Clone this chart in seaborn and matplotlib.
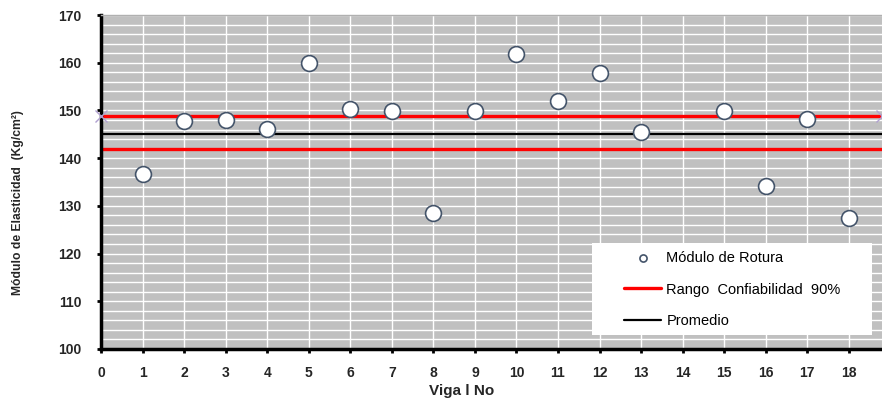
import matplotlib
matplotlib.use("Agg")
import matplotlib.pyplot as plt
from matplotlib.patches import Rectangle
import seaborn as sns
import pandas as pd
import numpy as np

# ---- data ----
viga = [1, 2, 3, 4, 5, 6, 7, 8, 9, 10, 11, 12, 13, 15, 16, 17, 18]
modulo_rotura = [136.7, 147.8, 148.0, 146.1, 160.0, 150.2, 149.9, 128.6, 149.9,
                 161.8, 152.0, 157.8, 145.4, 149.9, 134.2, 148.1, 127.4]
rango_sup = 148.8
rango_inf = 142.0
promedio = 145.1
x_ticks = list(range(0, 19))
y_ticks = [100, 110, 120, 130, 140, 150, 160, 170]

df = pd.DataFrame({"Viga": viga, "Modulo": modulo_rotura})

sns.set_theme(style="white")
plt.rcParams["font.family"] = ["Liberation Sans", "DejaVu Sans"]

fig = plt.figure(figsize=(8.82, 4.0), dpi=100)
ax = fig.add_axes([101/882, 1-349/400, 1-101/882, (349-15)/400])
ax.set_facecolor("#C0C0C0")

# grid
for x in x_ticks:
    ax.axvline(x, color="white", lw=1.0, zorder=0)
for y in np.arange(100, 171, 2):
    ax.axhline(y, color="white", lw=1.0, zorder=0)

# lines
ax.axhline(rango_sup, color="#FF0000", lw=2.4, zorder=2, label="Rango  Confiabilidad  90%")
ax.axhline(rango_inf, color="#FF0000", lw=2.4, zorder=2)
ax.axhline(promedio, color="black", lw=1.6, zorder=2, label="Promedio")
ax.plot([0, 18.8], [rango_sup, rango_sup], ls="none", marker="x", ms=9,
        mec="#B0A0D0", mew=1.0, clip_on=False, zorder=3)

sns.scatterplot(data=df, x="Viga", y="Modulo", ax=ax, s=130, color="white",
                edgecolor="#44546A", linewidth=1.2, zorder=4,
                label="Módulo de Rotura")

ax.set_xlim(0, 18.8)
ax.set_ylim(100, 170)
ax.set_xticks(x_ticks)
ax.set_yticks(y_ticks)
ax.set_xticklabels([str(v) for v in x_ticks], fontsize=10, fontweight="bold")
ax.set_yticklabels([str(v) for v in y_ticks], fontsize=10, fontweight="bold")
ax.tick_params(axis="both", which="both", direction="out", length=3, width=2,
               color="black", bottom=True, left=True)
ax.tick_params(axis="x", pad=9.5)
ax.tick_params(axis="y", pad=11)
ax.set_xlabel("")
ax.set_ylabel("")

for side in ["left", "bottom"]:
    ax.spines[side].set_color("black")
    ax.spines[side].set_linewidth(2.5)
ax.spines["top"].set_color("#B0B0B0")
ax.spines["top"].set_linewidth(1.0)
ax.spines["right"].set_visible(False)

fig.text(462/882, 1-391/400, "Viga l No", ha="center", va="center",
         fontsize=11, fontweight="bold")
fig.text(18/882, 1-203/400, "Módulo de Elasticidad  (Kg/cm²)", ha="center",
         va="center", rotation=90, fontsize=8.7, fontweight="bold")

# legend box
ax.add_patch(Rectangle((0.629, 0.042), 0.358, 0.275, transform=ax.transAxes,
                       facecolor="white", edgecolor="none", zorder=5))
handles, labels = ax.get_legend_handles_labels()
order = ["Módulo de Rotura", "Rango  Confiabilidad  90%", "Promedio"]
hmap = dict(zip(labels, handles))
leg = ax.legend([hmap[k] for k in order], order, loc="upper left",
                bbox_to_anchor=((624-101)/781, 1-(251-15)/334),
                frameon=False, fontsize=10.5, labelspacing=1.2,
                handlelength=2.55, handletextpad=0.35, borderpad=0,
                markerscale=0.45, borderaxespad=0)
leg.set_zorder(6)
for t in leg.get_texts():
    t.set_color("black")

fig.savefig("out.png", dpi=100)
